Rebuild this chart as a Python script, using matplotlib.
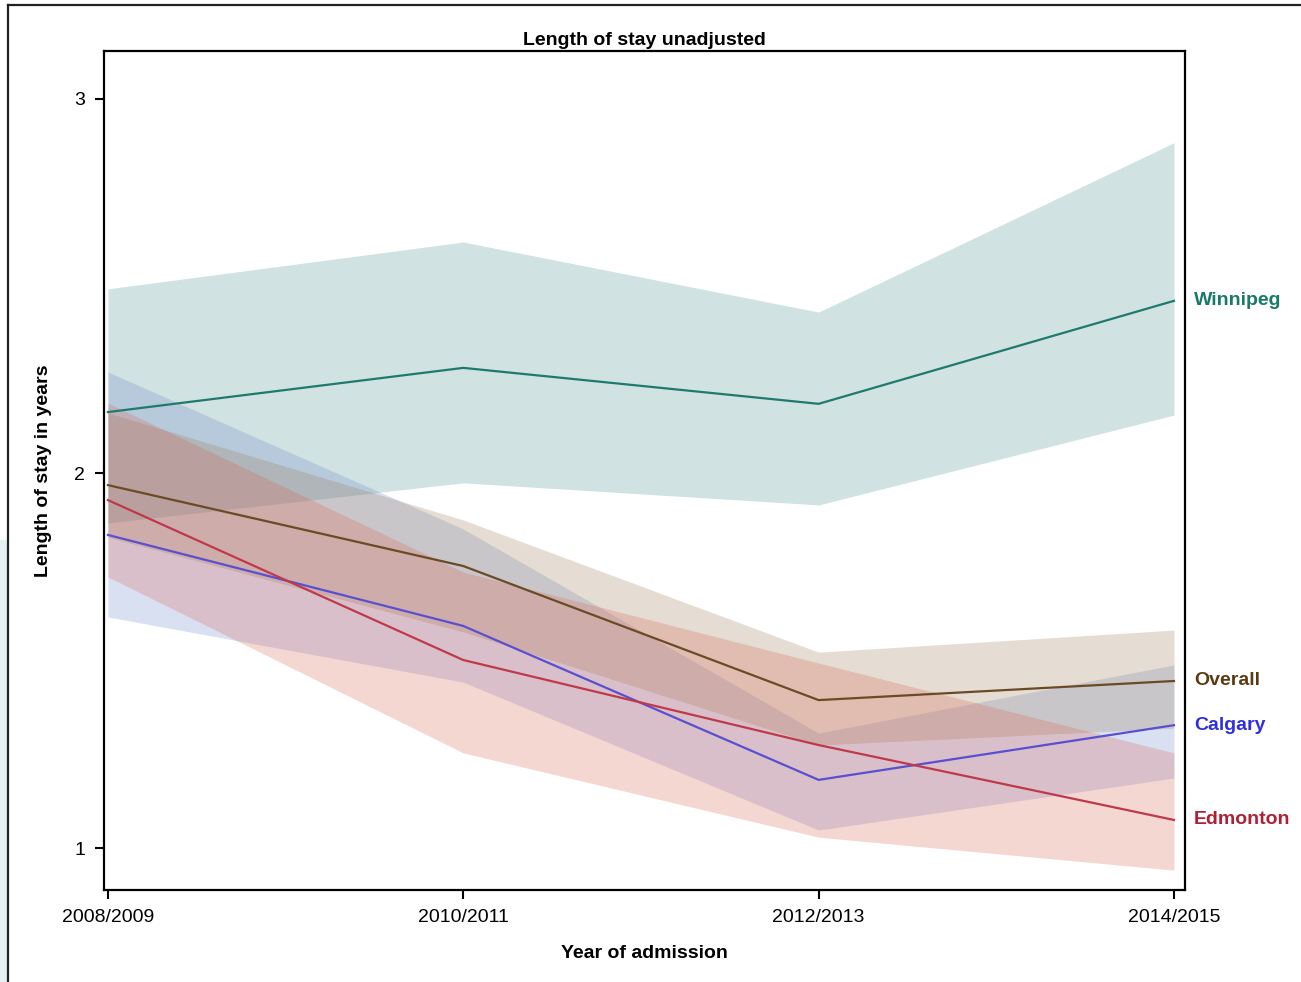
import numpy as np
import matplotlib
matplotlib.use("Agg")
import matplotlib.pyplot as plt
from matplotlib.lines import Line2D
from matplotlib.patches import Rectangle

plt.rcParams["font.family"] = ["Liberation Sans", "DejaVu Sans"]

# ---- data (length of stay in years, with 95% bands) ----
years = ["2008/2009", "2010/2011", "2012/2013", "2014/2015"]

winnipeg = [2.164, 2.282, 2.186, 2.461]
winnipeg_lo = [1.868, 1.975, 1.916, 2.156]
winnipeg_hi = [2.493, 2.618, 2.431, 2.883]

overall = [1.969, 1.753, 1.395, 1.446]
overall_lo = [1.830, 1.577, 1.275, 1.320]
overall_hi = [2.162, 1.876, 1.523, 1.582]

calgary = [1.836, 1.593, 1.182, 1.328]
calgary_lo = [1.617, 1.443, 1.048, 1.187]
calgary_hi = [2.271, 1.852, 1.307, 1.489]

edmonton = [1.929, 1.502, 1.275, 1.075]
edmonton_lo = [1.724, 1.254, 1.029, 0.941]
edmonton_hi = [2.188, 1.737, 1.494, 1.254]

groups = [
    ("Winnipeg", winnipeg, winnipeg_lo, winnipeg_hi, "#1f7a6e", "#4b8f8f", "#1a7a6a"),
    ("Calgary", calgary, calgary_lo, calgary_hi, "#5a4fd0", "#6a85cc", "#2f2fe0"),
    ("Overall", overall, overall_lo, overall_hi, "#6b4a26", "#9a7a52", "#5c3b12"),
    ("Edmonton", edmonton, edmonton_lo, edmonton_hi, "#c0394b", "#d9604f", "#b02035"),
]

x = np.arange(len(years))
W, H = 1301, 982
fig = plt.figure(figsize=(W / 100, H / 100), dpi=100)
ax = fig.add_axes([104 / W, 92 / H, (1185 - 104) / W, (890 - 51) / H])

for name, v, lo, hi, lc, fc, tc in groups:
    ax.fill_between(x, lo, hi, color=fc, alpha=0.25, lw=0)
for name, v, lo, hi, lc, fc, tc in groups:
    ax.plot(x, v, color=lc, lw=1.6)
    ax.text(x[-1] + 0.056, v[-1], name, color=tc, fontsize=14, weight="bold",
            ha="left", va="center", clip_on=False)

ax.set_xlim(-0.011, 3.031)
ax.set_ylim(0.888, 3.128)
ax.set_xticks(x)
ax.set_xticklabels(years)
ax.set_yticks([1, 2, 3])
ax.tick_params(labelsize=14, width=1.5, length=6.5, pad=7)
for s in ax.spines.values():
    s.set_linewidth(1.6)
ax.set_title("Length of stay unadjusted", fontsize=14, weight="bold", pad=4)
ax.set_xlabel("Year of admission", fontsize=14, weight="bold", labelpad=14)
ax.set_ylabel("Length of stay in years", fontsize=14, weight="bold", labelpad=16)

# outer frame (left + top) and faint strip at far left
fig.add_artist(Line2D([8 / W, 8 / W], [0, 1 - 5 / H], color="#222", lw=1.6))
fig.add_artist(Line2D([8 / W, 1], [1 - 5 / H, 1 - 5 / H], color="#222", lw=1.6))
fig.add_artist(Rectangle((0, 0), 7 / W, 1 - 540 / H, color="#e6f0f2", lw=0))

fig.savefig("out.png", dpi=100)
